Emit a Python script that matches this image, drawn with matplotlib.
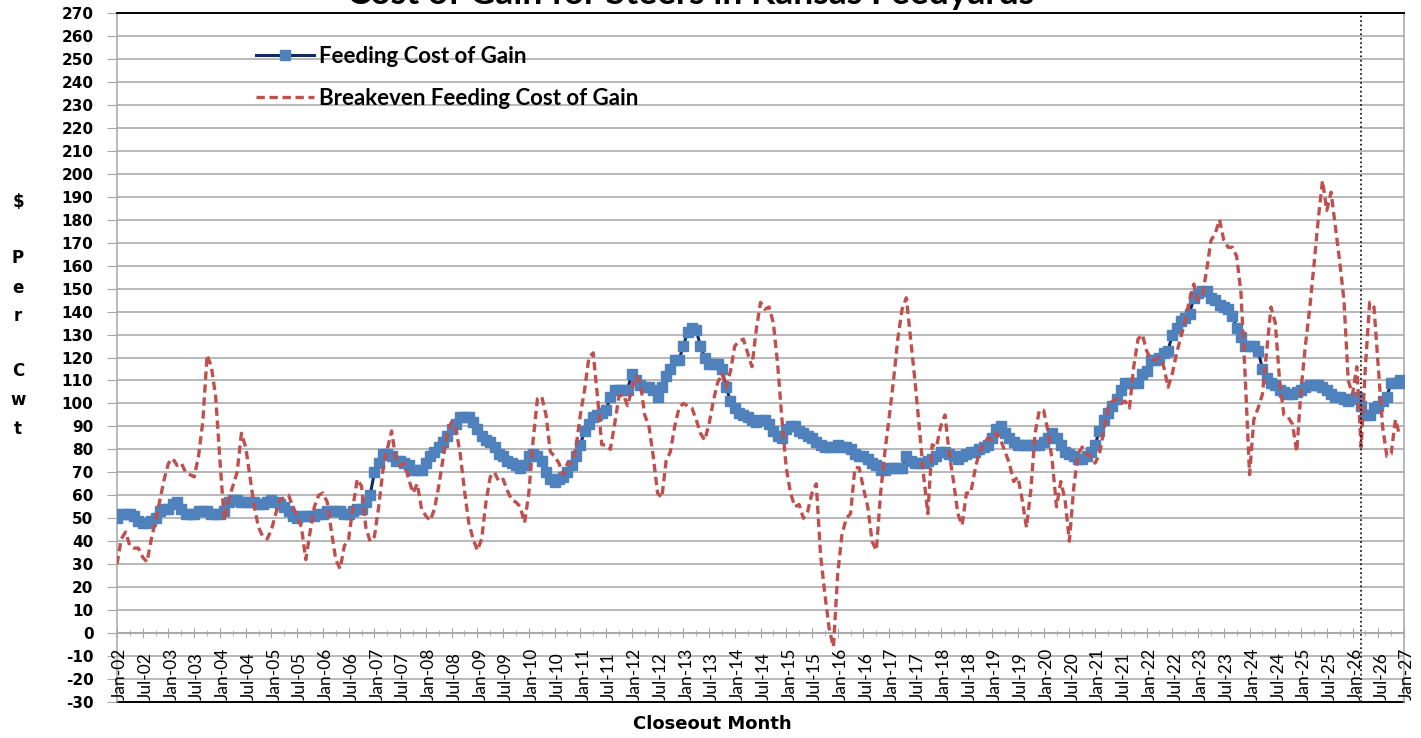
import numpy as np
import pandas as pd
import matplotlib
matplotlib.use("Agg")
import matplotlib.pyplot as plt
from matplotlib.transforms import ScaledTranslation

plt.rcParams["axes.unicode_minus"] = False

# monthly values, Jan-02 onwards ($ per cwt)
feeding_cost = [
    50, 52, 52, 52, 51, 49, 48, 48, 49, 50, 53, 54,              # 2002
    54, 56, 57, 54, 52, 52, 52, 53, 53, 53, 52, 52,              # 2003
    52, 53, 57, 58, 58, 57, 57, 57, 57, 56, 56, 57,              # 2004
    58, 57, 56, 55, 53, 51, 50, 51, 51, 51, 51, 52,              # 2005
    52, 53, 53, 53, 53, 52, 52, 53, 54, 54, 57, 60,              # 2006
    70, 74, 78, 78, 77, 75, 75, 74, 73, 71, 71, 71,              # 2007
    74, 77, 79, 81, 83, 86, 89, 91, 94, 94, 94, 92,              # 2008
    89, 86, 84, 83, 81, 78, 77, 75, 74, 73, 72, 73,              # 2009
    77, 78, 77, 75, 70, 67, 66, 67, 68, 70, 73, 77,              # 2010
    82, 88, 91, 94, 95, 96, 97, 103, 106, 106, 106, 106,         # 2011
    113, 110, 108, 107, 107, 106, 103, 107, 112, 115, 119, 119,  # 2012
    125, 131, 133, 132, 125, 120, 117, 117, 117, 115, 107, 101,  # 2013
    98, 96, 95, 94, 93, 92, 93, 93, 91, 88, 86, 85,              # 2014
    89, 90, 90, 88, 87, 86, 85, 83, 82, 81, 81, 81,              # 2015
    82, 81, 81, 80, 78, 77, 77, 76, 74, 73, 71, 71,              # 2016
    72, 72, 72, 72, 77, 75, 74, 74, 74, 75, 76, 77,              # 2017
    79, 79, 78, 77, 76, 77, 78, 79, 79, 80, 81, 82,              # 2018
    85, 89, 90, 87, 85, 83, 82, 82, 82, 82, 82, 82,              # 2019
    83, 85, 87, 85, 82, 79, 78, 77, 76, 76, 77, 79,              # 2020
    82, 88, 93, 96, 99, 102, 106, 109, 109, 109, 109, 113,       # 2021
    114, 119, 119, 120, 122, 123, 130, 133, 136, 137, 139, 146,  # 2022
    148, 149, 149, 146, 145, 143, 142, 141, 138, 133, 129, 125,  # 2023
    125, 125, 123, 115, 111, 109, 108, 106, 105, 104, 104, 105,  # 2024
    106, 107, 108, 108, 108, 107, 106, 104, 103, 103, 102, 101,  # 2025
    102, 103, 99, 95, 95, 98, 99, 101, 103, 109, 109, 110,       # 2026
    109,                                                         # Jan-27
]

breakeven_cost = [
    30, 41, 44, 38, 37, 37, 33, 31, 41, 49, 58, 67,              # 2002
    74, 76, 73, 74, 70, 69, 68, 77, 92, 121, 116, 103,           # 2003
    75, 49, 58, 64, 70, 87, 81, 68, 55, 46, 42, 41,              # 2004
    45, 52, 58, 59, 60, 55, 51, 46, 32, 44, 55, 60,              # 2005
    61, 57, 44, 32, 28, 38, 41, 55, 67, 64, 46, 40,              # 2006
    42, 55, 71, 80, 88, 76, 73, 74, 67, 61, 65, 54,              # 2007
    51, 49, 54, 64, 76, 87, 92, 89, 78, 62, 48, 41,              # 2008
    36, 41, 57, 68, 70, 66, 67, 62, 58, 57, 55, 48,              # 2009
    61, 84, 102, 103, 95, 79, 77, 74, 69, 74, 74, 81,            # 2010
    95, 106, 120, 122, 103, 82, 82, 80, 91, 103, 104, 99,        # 2011
    106, 112, 109, 95, 90, 77, 61, 59, 75, 79, 90, 98,           # 2012
    100, 99, 98, 93, 87, 84, 91, 101, 109, 113, 107, 114,        # 2013
    125, 127, 128, 122, 116, 132, 144, 141, 142, 135, 117, 93,   # 2014
    72, 61, 55, 56, 50, 53, 61, 65, 34, 17, 2, -6,               # 2015
    26, 43, 50, 52, 72, 72, 63, 55, 40, 36, 61, 79,              # 2016
    94, 110, 128, 141, 146, 128, 110, 90, 69, 52, 82, 81,        # 2017
    90, 95, 78, 66, 52, 47, 61, 61, 71, 79, 82, 85,              # 2018
    84, 87, 84, 79, 74, 66, 68, 58, 46, 62, 87, 97,              # 2019
    97, 88, 75, 55, 66, 58, 40, 63, 78, 81, 78, 77,              # 2020
    74, 78, 88, 98, 101, 102, 100, 101, 98, 116, 128, 130,       # 2021
    123, 119, 119, 120, 116, 107, 113, 122, 129, 136, 145, 152,  # 2022
    145, 147, 158, 171, 174, 180, 171, 168, 168, 164, 148, 111,  # 2023
    69, 93, 98, 104, 123, 142, 135, 110, 95, 94, 91, 79,         # 2024
    106, 125, 141, 160, 180, 197, 184, 192, 177, 162, 145, 110,  # 2025
    104, 116, 81, 116, 144, 142, 116, 90, 77, 78, 93, 86,        # 2026
]

# tick labels every 6 months, Jan-02 .. Jan-27
tick_labels = list(pd.date_range("2002-01-01", "2027-01-01", freq="6MS").strftime("%b-%y"))
forecast_start = 290  # month index of the dotted line (Mar-26)

W, H = 1421, 738
fig = plt.figure(figsize=(W / 100, H / 100), dpi=100)
ax = fig.add_axes([117 / W, (H - 702) / H, (1404 - 117) / W, (702 - 13) / H])

grid_col = "#a6a6a6"
lato = ["Lato", "DejaVu Sans"]

ax.plot(np.arange(len(feeding_cost)), feeding_cost, color="#0f2a66", lw=2.2,
        marker="s", ms=7.5, mfc="#4f81bd", mec="#4f81bd", zorder=3,
        label="Feeding Cost of Gain")
ax.plot(np.arange(len(breakeven_cost)), breakeven_cost, color="#c0504d", lw=2.4,
        ls=(0, (2.5, 1.4)), zorder=4, label="Breakeven Feeding Cost of Gain")
ax.axvline(forecast_start, color="black", ls=":", lw=1.2, zorder=5)

ax.set_xlim(0, 300)
ax.set_ylim(-30, 270)
ax.set_yticks(np.arange(-30, 271, 10))
ax.yaxis.grid(True, color=grid_col, lw=1.1)
ax.set_axisbelow(True)

# x axis crosses at 0, labels sit at the bottom
ax.set_xticks(np.arange(0, 301, 6))
ax.set_xticks(np.arange(0, 301, 3), minor=True)
ax.spines["bottom"].set_position(("data", 0))
ax.tick_params(axis="x", which="major", direction="inout", length=7, color=grid_col, labelbottom=False)
ax.tick_params(axis="x", which="minor", direction="inout", length=5, color=grid_col)
ax.tick_params(axis="y", direction="out", length=7, color=grid_col, pad=10, labelsize=11)
for lab in ax.get_yticklabels():
    lab.set_fontweight("bold")

for s in ["left", "right", "bottom"]:
    ax.spines[s].set_color(grid_col)
    ax.spines[s].set_linewidth(1.1)
ax.spines["top"].set_color("black")
ax.spines["top"].set_linewidth(1.4)
ax.axhline(-30, color="black", lw=1.4, clip_on=False)

shift = ScaledTranslation(3 / 100, 2 / 100, fig.dpi_scale_trans)
for m, lab in zip(range(0, 301, 6), tick_labels):
    ax.text(m, -30, lab, rotation=90, ha="center", va="bottom", fontsize=12.5,
            family=lato, transform=ax.transData + shift)

ax.legend(loc="upper left", bbox_to_anchor=(256 / W, 1 - 46 / H), bbox_transform=fig.transFigure,
          frameon=False, numpoints=1, handlelength=2.6, handletextpad=0.25, labelspacing=0.95,
          borderpad=0, borderaxespad=0, prop={"family": lato, "weight": "bold", "size": 16})

fig.text(691 / W, 1 - 4 / H, "Cost of Gain for Steers in Kansas Feedyards", ha="center",
         va="baseline", fontsize=25.5, weight="bold", family=lato)
fig.text(712 / W, 1 - 724 / H, "Closeout Month", ha="center", va="center", fontsize=13, weight="bold")
for ch, ypx in zip("$PerCwt", [202, 258, 288, 316, 371, 400, 429]):
    fig.text(18 / W, 1 - ypx / H, ch, ha="center", va="center", fontsize=12, weight="bold")

fig.savefig("out.png", dpi=100)
